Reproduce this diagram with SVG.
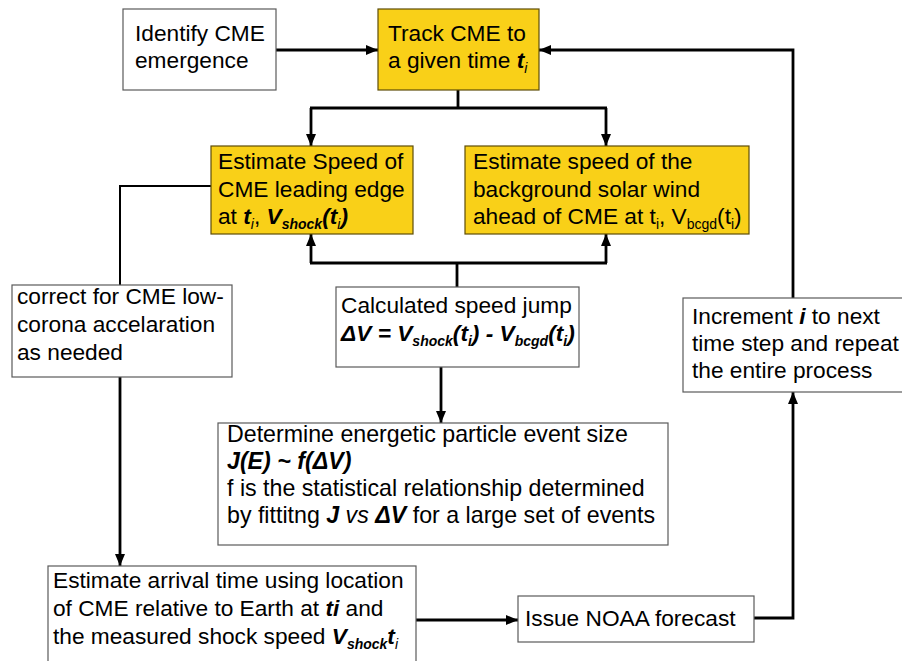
<svg xmlns="http://www.w3.org/2000/svg" width="902" height="661" viewBox="0 0 902 661">
<style>
text{font-family:"Liberation Sans",Arial,sans-serif;font-size:22.7px;fill:#000}
.big{font-size:23.2px}
.box{fill:#fff;stroke:#5a5a5a;stroke-width:1.2}
.ybox{fill:#F9D018;stroke:#5e4d08;stroke-width:1.2}
.bi{font-weight:bold;font-style:italic}
.it{font-style:italic}
.sub{font-size:14px}
.c{fill:none;stroke:#000;stroke-width:2.8}
.thin{fill:none;stroke:#000;stroke-width:2}
</style>
<defs>
<marker id="ah" markerUnits="userSpaceOnUse" markerWidth="12" markerHeight="12" viewBox="0 0 12 12" refX="12" refY="6" orient="auto">
<path d="M0,1 L12,6 L0,11 z" fill="#000"/>
</marker>
</defs>
<rect width="902" height="661" fill="#fff"/>
<g id="connectors">
<path class="c" d="M276,50 H378" marker-end="url(#ah)"/>
<path class="c" d="M458,90 V108 M310,108 H607"/>
<path class="c" d="M311,108 V146" marker-end="url(#ah)"/>
<path class="c" d="M606,108 V146" marker-end="url(#ah)"/>
<path class="c" d="M457,287 V263 M310,263 H607"/>
<path class="c" d="M311,263 V234" marker-end="url(#ah)"/>
<path class="c" d="M606,263 V234" marker-end="url(#ah)"/>
<path class="c" d="M441,367 V423" marker-end="url(#ah)"/>
<path class="thin" d="M211,186 H120 V285"/>
<path class="c" d="M120,377 V566" marker-end="url(#ah)"/>
<path class="c" d="M416,620 H518" marker-end="url(#ah)"/>
<path class="c" d="M754,618 H793 V392" marker-end="url(#ah)"/>
<path class="c" d="M793,298 V50 H539" marker-end="url(#ah)"/>
</g>
<g id="identify">
<rect class="box" x="123" y="9" width="153" height="81"/>
<text x="135" y="41">Identify CME</text>
<text x="135" y="68">emergence</text>
</g>
<g id="track">
<rect class="ybox" x="378" y="9" width="161" height="81"/>
<text x="388" y="41">Track CME to</text>
<text x="388" y="68">a given time <tspan class="bi">t</tspan><tspan class="sub it" dy="5">i</tspan></text>
</g>
<g id="estimate-shock">
<rect class="ybox" x="211" y="146" width="202" height="88"/>
<text x="218" y="169">Estimate Speed of</text>
<text x="218" y="197">CME leading edge</text>
<text x="218" y="224">at <tspan class="bi">t</tspan><tspan class="sub it" dy="5">i</tspan><tspan dy="-5">, </tspan><tspan class="bi">V</tspan><tspan class="sub bi" dy="5">shock</tspan><tspan class="bi" dy="-5">(t</tspan><tspan class="sub it" dy="5">i</tspan><tspan class="bi" dy="-5">)</tspan></text>
</g>
<g id="estimate-background">
<rect class="ybox" x="465" y="146" width="284" height="88"/>
<text x="473" y="169">Estimate speed of the</text>
<text x="473" y="197">background solar wind</text>
<text x="473" y="224">ahead of CME at t<tspan class="sub" dy="5">i</tspan><tspan dy="-5">, V</tspan><tspan class="sub" dy="5">bcgd</tspan><tspan dy="-5">(t</tspan><tspan class="sub" dy="5">i</tspan><tspan dy="-5">)</tspan></text>
</g>
<g id="correct">
<rect class="box" x="12" y="285" width="220" height="92"/>
<text x="17" y="304">correct for CME low-</text>
<text x="17" y="332">corona accelaration</text>
<text x="17" y="360">as needed</text>
</g>
<g id="calculated">
<rect class="box" x="336" y="287" width="243" height="80"/>
<text x="341" y="313">Calculated speed jump</text>
<text x="341" y="341" class="bi">ΔV = V<tspan class="sub" dy="5">shock</tspan><tspan dy="-5">(t</tspan><tspan class="sub" dy="5">i</tspan><tspan dy="-5">) - V</tspan><tspan class="sub" dy="5">bcgd</tspan><tspan dy="-5">(t</tspan><tspan class="sub" dy="5">i</tspan><tspan dy="-5">)</tspan></text>
</g>
<g id="increment">
<rect class="box" x="683" y="298" width="230" height="94"/>
<text x="692" y="324">Increment <tspan class="bi">i</tspan> to next</text>
<text x="692" y="351">time step and repeat</text>
<text x="692" y="378">the entire process</text>
</g>
<g id="determine">
<rect class="box" x="218" y="423" width="450" height="122"/>
<text class="big" x="227" y="442">Determine energetic particle event size</text>
<text class="big bi" x="227" y="469">J(E) ~ f(ΔV)</text>
<text class="big" x="227" y="496">f is the statistical relationship determined</text>
<text class="big" x="227" y="523">by fittitng <tspan class="bi">J</tspan> <tspan class="it">vs</tspan> <tspan class="bi">ΔV</tspan> for a large set of events</text>
</g>
<g id="arrival">
<rect class="box" x="48" y="566" width="368" height="100"/>
<text x="53" y="588">Estimate arrival time using location</text>
<text x="53" y="616">of CME relative to Earth at <tspan class="bi">ti</tspan> and</text>
<text x="53" y="644">the measured shock speed <tspan class="bi">V</tspan><tspan class="sub bi" dy="5">shock</tspan><tspan class="bi" dy="-5">t</tspan><tspan class="sub it" dy="5">i</tspan></text>
</g>
<g id="noaa">
<rect class="box" x="518" y="596" width="236" height="46"/>
<text x="525" y="626">Issue NOAA forecast</text>
</g>
</svg>
